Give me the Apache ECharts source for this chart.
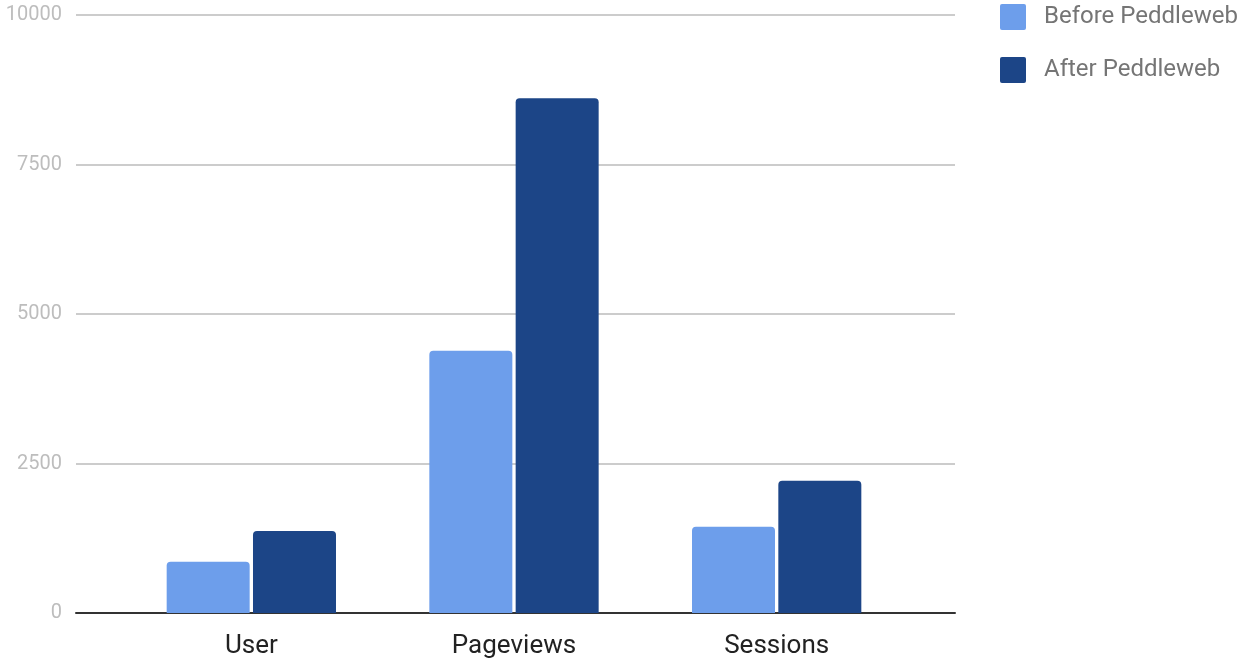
<!DOCTYPE html>
<html>
<head>
<meta charset="utf-8">
<script src="https://cdn.jsdelivr.net/npm/echarts@6/dist/echarts.min.js"></script>
<style>
  html, body { margin: 0; padding: 0; background: #fff; }
  #chart { width: 1243px; height: 660px; }
</style>
</head>
<body>
<div id="chart"></div>
<script>
// Traffic metrics before and after Peddleweb
const categories = ['User', 'Pageviews', 'Sessions'];
const seriesNames = ['Before Peddleweb', 'After Peddleweb'];
const beforeValues = [858, 4386, 1443];
const afterValues = [1371, 8607, 2212];
const yTicks = [0, 2500, 5000, 7500, 10000];

const colors = ['#6d9eeb', '#1c4587'];
const font = 'Roboto, "Noto Sans", sans-serif';
const gridTop = 15, gridBottom = 47;
const squareIcon = 'path://M2,0H24A2,2 0 0 1 26,2V24A2,2 0 0 1 24,26H2A2,2 0 0 1 0,24V2A2,2 0 0 1 2,0Z';

const chart = echarts.init(document.getElementById('chart'), null, { renderer: 'canvas' });

chart.setOption({
  backgroundColor: '#ffffff',
  animation: false,
  color: colors,
  textStyle: { fontFamily: font },
  legend: {
    orient: 'vertical',
    left: 1000,
    top: 4,
    padding: 0,
    itemWidth: 26,
    itemHeight: 26,
    itemGap: 27,
    icon: squareIcon,
    textStyle: { fontSize: 24, lineHeight: 26, color: '#757575', fontFamily: font, padding: [0, 0, 0, 13] },
    data: seriesNames
  },
  grid: [
    // wide grid carrying the gridlines and baseline
    { left: 76, right: 288, top: gridTop, bottom: gridBottom },
    // bar area
    { left: 120, right: 335, top: gridTop, bottom: gridBottom }
  ],
  xAxis: [
    {
      type: 'value', gridIndex: 0, min: 0, max: 1,
      axisLine: { show: true, onZero: false, lineStyle: { color: '#333333', width: 2 } },
      axisTick: { show: false }, axisLabel: { show: false }, splitLine: { show: false }
    },
    {
      type: 'category', gridIndex: 1, data: categories,
      axisLine: { show: false }, axisTick: { show: false },
      axisLabel: { fontSize: 26, color: '#222222', margin: 20, fontFamily: font }
    }
  ],
  yAxis: [
    {
      type: 'value', gridIndex: 0,
      min: yTicks[0], max: yTicks[yTicks.length - 1], interval: yTicks[1] - yTicks[0],
      axisLine: { show: false }, axisTick: { show: false },
      axisLabel: { fontSize: 20, color: '#bdbdbd', margin: 14, fontFamily: font, formatter: v => String(v) },
      splitLine: { lineStyle: { color: '#cccccc', width: 2 } }
    },
    {
      type: 'value', gridIndex: 1,
      min: yTicks[0], max: yTicks[yTicks.length - 1],
      show: false, splitLine: { show: false }
    }
  ],
  series: [
    {
      name: seriesNames[0], type: 'bar', xAxisIndex: 1, yAxisIndex: 1,
      data: beforeValues, barWidth: 83, barGap: '4%',
      itemStyle: { color: colors[0], borderRadius: [4, 4, 0, 0] }
    },
    {
      name: seriesNames[1], type: 'bar', xAxisIndex: 1, yAxisIndex: 1,
      data: afterValues, barWidth: 83, barGap: '4%',
      itemStyle: { color: colors[1], borderRadius: [4, 4, 0, 0] }
    }
  ]
});
</script>
</body>
</html>
